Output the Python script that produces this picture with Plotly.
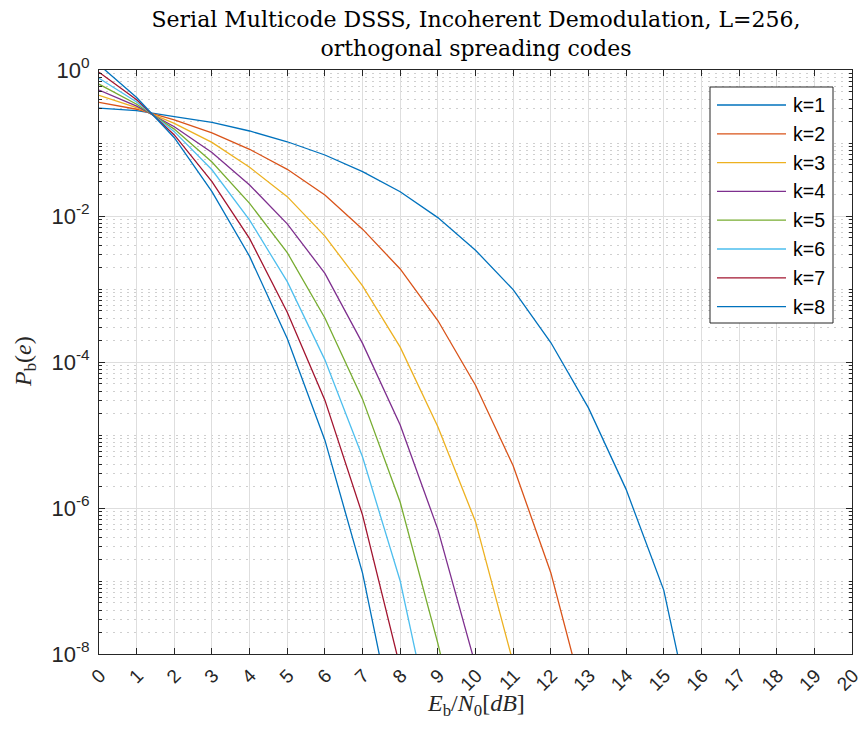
import numpy as np
import plotly.graph_objects as go

# Eb/N0 in dB (integer grid)
x_db = list(range(0, 21))

pb_k1 = [0.30, 0.277, 0.23, 0.192, 0.146, 0.104, 0.0685, 0.0405, 0.0215, 0.0095,
         0.0034, 9.8e-4, 1.85e-4, 2.35e-5, 1.8e-6, 7.5e-8, 3e-10]
pb_k2 = [0.36, 0.29, 0.207, 0.138, 0.082, 0.0436, 0.0194, 0.0066, 0.00188, 3.7e-4,
         4.8e-5, 3.8e-6, 1.3e-7, 1.4e-9]
pb_k3 = [0.45, 0.305, 0.186, 0.102, 0.0465, 0.0184, 0.0053, 1.1e-3, 1.6e-4, 1.3e-5,
         6.5e-7, 7.6e-9]
pb_k4 = [0.53, 0.32, 0.167, 0.074, 0.0266, 0.0078, 1.64e-3, 1.8e-4, 1.37e-5, 5.1e-7,
         7e-9]
pb_k5 = [0.64, 0.34, 0.155, 0.055, 0.0149, 3.15e-3, 4e-4, 3.1e-5, 1.2e-6, 1.4e-8,
         1e-10]
pb_k6 = [0.77, 0.365, 0.143, 0.043, 8.8e-3, 1.26e-3, 1.07e-4, 5e-6, 1.0e-7, 4e-10]
pb_k7 = [0.93, 0.39, 0.129, 0.0295, 4.9e-3, 4.8e-4, 3.0e-5, 8e-7, 6.5e-9]
pb_k8 = [1.18, 0.42, 0.118, 0.0216, 2.8e-3, 2.1e-4, 8.5e-6, 1.28e-7, 4e-10]

series = [pb_k1, pb_k2, pb_k3, pb_k4, pb_k5, pb_k6, pb_k7, pb_k8]
names = ["k=1", "k=2", "k=3", "k=4", "k=5", "k=6", "k=7", "k=8"]
colors = ["#0072BD", "#D95319", "#EDB120", "#7E2F8E", "#77AC30", "#4DBEEE",
          "#A2142F", "#0072BD"]

y_tickvals = [1, 1e-2, 1e-4, 1e-6, 1e-8]
y_ticktext = ["10<sup>0</sup>", "10<sup>-2</sup>", "10<sup>-4</sup>",
              "10<sup>-6</sup>", "10<sup>-8</sup>"]
x_tickvals = list(range(0, 21))
x_ticktext = [str(v) for v in x_tickvals]

minor_vals = []
for e in range(-8, 0):
    for m in range(1, 10):
        if m == 1 and e % 2 == 0:
            continue
        minor_vals.append(m * 10.0 ** e)

# figure geometry (pixels)
W, H = 865, 731
L, R, T, B = 99, 852, 70, 654
PW, PH = R - L, B - T


def px_x(p):
    return (p - L) / PW


def px_y(p):
    return (B - p) / PH


fig = go.Figure()
for ys, nm, c in zip(series, names, colors):
    fig.add_trace(go.Scatter(
        x=x_db[:len(ys)], y=ys, mode="lines", name=nm,
        line=dict(color=c, width=1.3), showlegend=False,
    ))

sans = "Liberation Sans, Arial, sans-serif"
serif = "DejaVu Serif, serif"
lserif = "Liberation Serif, Times New Roman, serif"

# manual legend (MATLAB style: long line samples)
leg_left, leg_right, leg_top, leg_bot = 710, 833, 87, 323
row0, row_step = 105, 28.8
shapes = [dict(type="rect", xref="paper", yref="paper",
               x0=px_x(leg_left), x1=px_x(leg_right),
               y0=px_y(leg_bot), y1=px_y(leg_top),
               line=dict(color="#262626", width=1), fillcolor="white", layer="above")]
annotations = []
for i, (nm, c) in enumerate(zip(names, colors)):
    yy = row0 + i * row_step
    shapes.append(dict(type="line", xref="paper", yref="paper",
                       x0=px_x(717), x1=px_x(786), y0=px_y(yy), y1=px_y(yy),
                       line=dict(color=c, width=1.3), layer="above"))
    annotations.append(dict(text=nm, xref="paper", yref="paper",
                            x=px_x(791), y=px_y(yy), xanchor="left", yanchor="middle",
                            showarrow=False, font=dict(family=sans, size=19.5, color="black")))

# axis titles as annotations for exact placement
annotations.append(dict(text="<i>E</i><sub>b</sub>/<i>N</i><sub>0</sub>[<i>dB</i>]",
                        xref="paper", yref="paper", x=px_x(476), y=px_y(705),
                        xanchor="center", yanchor="middle", showarrow=False,
                        font=dict(family=lserif, size=24, color="#262626")))
annotations.append(dict(text="<i>P</i><sub>b</sub>(<i>e</i>)",
                        xref="paper", yref="paper", x=px_x(25), y=px_y(362),
                        xanchor="center", yanchor="middle", showarrow=False, textangle=-90,
                        font=dict(family=lserif, size=24, color="#262626")))

fig.update_layout(
    width=W, height=H,
    margin=dict(l=L, r=W - R, t=T, b=H - B, autoexpand=False),
    paper_bgcolor="white", plot_bgcolor="white",
    title=dict(
        text="Serial Multicode DSSS, Incoherent Demodulation, L=256,<br>orthogonal spreading codes",
        x=476 / W, xref="container", xanchor="center",
        y=1 - 27 / H, yref="container", yanchor="top",
        font=dict(family=serif, size=22, color="black"),
    ),
    showlegend=False,
    shapes=shapes,
    annotations=annotations,
)

fig.update_xaxes(
    range=[0, 20], tickvals=x_tickvals, ticktext=x_ticktext, tickangle=-45,
    ticks="inside", ticklen=6, tickcolor="#262626",
    showline=True, linecolor="#262626", linewidth=1, mirror="allticks",
    showgrid=True, gridcolor="#dedede", gridwidth=1,
    tickfont=dict(family=sans, size=19, color="#262626"),
    ticklabelstandoff=2, ticklabelshift=1, ticklabeloverflow="allow",
    automargin=False,
    zeroline=False,
)
fig.update_yaxes(
    type="log", range=[-8, 0], tickvals=y_tickvals, ticktext=y_ticktext,
    ticks="inside", ticklen=6, tickcolor="#262626",
    showline=True, linecolor="#262626", linewidth=1, mirror="allticks",
    showgrid=True, gridcolor="#dedede", gridwidth=1,
    tickfont=dict(family=sans, size=22, color="#262626"),
    ticklabelstandoff=4, automargin=False,
    zeroline=False,
    minor=dict(tickvals=minor_vals, ticks="inside", ticklen=3, tickcolor="#262626",
               showgrid=True, gridcolor="#cfcfcf", griddash="2px,5px", gridwidth=1),
)

fig.write_html("out.html")
